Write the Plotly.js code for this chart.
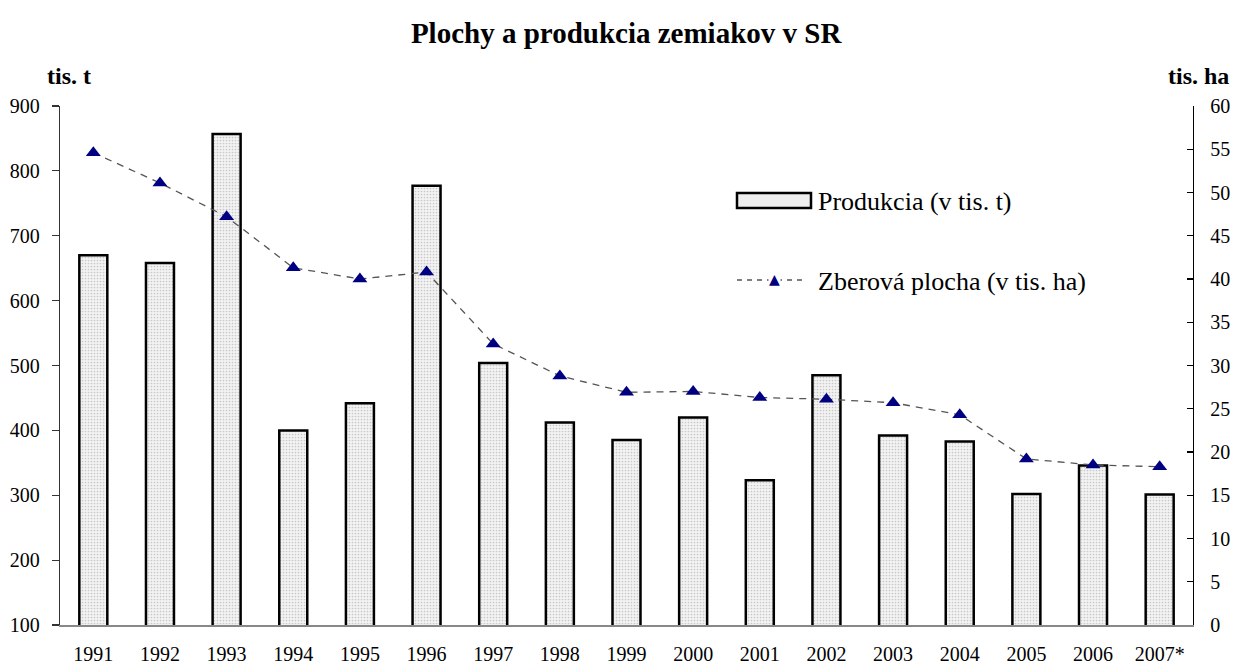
<!DOCTYPE html>
<html>
<head>
<meta charset="utf-8">
<script src="https://cdn.plot.ly/plotly-3.0.1.min.js"></script>
<style>html,body{margin:0;padding:0;background:#fff;}#chart{width:1235px;height:666px;}</style>
</head>
<body>
<div id="chart"></div>
<script>
const years = ['1991','1992','1993','1994','1995','1996','1997','1998','1999','2000','2001','2002','2003','2004','2005','2006','2007*'];
const produkcia = [670, 658, 857, 400, 442, 777, 504, 412, 385, 420, 323, 485, 392, 383, 302, 346, 301];
const plocha = [54.6, 51.1, 47.2, 41.3, 40.0, 40.8, 32.5, 28.8, 26.9, 27.0, 26.3, 26.1, 25.7, 24.3, 19.2, 18.5, 18.3];
const titleText = 'Plochy a produkcia zemiakov v SR';
const leftUnit = 'tis. t';
const rightUnit = 'tis. ha';
const legendBar = 'Produkcia (v tis. t)';
const legendLine = 'Zberová plocha (v tis. ha)';

const FONT = 'Liberation Serif';

const traces = [
  {
    type: 'bar', x: years, y: produkcia, name: legendBar, yaxis: 'y',
    marker: {
      color: '#f0f0f0',
      line: {color: '#000', width: 2.5},
      pattern: {shape: '.', fgcolor: '#c8c8c8', bgcolor: '#f3f3f3', size: 3, solidity: 0.25}
    },
    showlegend: false, hoverinfo: 'x+y'
  },
  {
    type: 'scatter', mode: 'lines+markers', x: years, y: plocha, name: legendLine, yaxis: 'y2',
    line: {color: '#555', width: 1.3, dash: '7px,6px'},
    marker: {symbol: 'triangle-up', size: 13, color: '#000080'},
    showlegend: false
  }
];

const layout = {
  width: 1235, height: 666,
  margin: {l: 60, r: 42, t: 106, b: 41},
  paper_bgcolor: '#fff', plot_bgcolor: '#fff',
  font: {family: FONT, size: 20, color: '#000'},
  title: {text: '<b>' + titleText + '</b>', font: {family: FONT, size: 29, color: '#000'},
          x: 0.507, xanchor: 'center', y: 0.95, yanchor: 'middle'},
  bargap: 0.58,
  showlegend: false,
  xaxis: {
    type: 'category', range: [-0.5, 16.5], showgrid: false, zeroline: false,
    showline: true, linecolor: '#888', linewidth: 1.5, ticks: '',
    ticklabelstandoff: 10, tickfont: {family: FONT, size: 20, color: '#000'}
  },
  yaxis: {
    range: [100, 900], dtick: 100, tick0: 100, showgrid: false, zeroline: false,
    showline: true, linecolor: '#333', linewidth: 1.2, ticks: 'outside', ticklen: 7,
    tickcolor: '#333', tickwidth: 1.2, ticklabelstandoff: 8,
    tickfont: {family: FONT, size: 20, color: '#000'}
  },
  yaxis2: {
    range: [0, 60], dtick: 5, tick0: 0, overlaying: 'y', side: 'right',
    showgrid: false, zeroline: false,
    showline: true, linecolor: '#000', linewidth: 1.2, ticks: 'inside', ticklen: 6,
    tickcolor: '#000', tickwidth: 1.2, ticklabelstandoff: 12,
    tickfont: {family: FONT, size: 20, color: '#000'}
  },
  shapes: [
    {type: 'rect', xref: 'paper', yref: 'paper',
     x0: (737-60)/1133, x1: (811-60)/1133, y0: (625-208)/519, y1: (625-193)/519,
     line: {color: '#000', width: 2.5}, fillcolor: '#eeeeee'},
    {type: 'line', xref: 'paper', yref: 'paper',
     x0: (737-60)/1133, x1: (807-60)/1133, y0: (625-280)/519, y1: (625-280)/519,
     line: {color: '#555', width: 1.3, dash: '5px,5px'}}
  ],
  annotations: [
    {xref: 'paper', yref: 'paper', x: (816-60)/1133, y: (625-201)/519, xanchor: 'left', yanchor: 'middle',
     text: legendBar, showarrow: false, font: {family: FONT, size: 26, color: '#000'}},
    {xref: 'paper', yref: 'paper', x: (816-60)/1133, y: (625-281)/519, xanchor: 'left', yanchor: 'middle',
     text: legendLine, showarrow: false, font: {family: FONT, size: 26, color: '#000'}},
    {xref: 'paper', yref: 'paper', x: (774-60)/1133, y: (625-279)/519, xanchor: 'center', yanchor: 'middle',
     text: '▲', showarrow: false, font: {family: 'DejaVu Sans', size: 14, color: '#000080'}, bgcolor: '#fff', borderpad: 0},
    {xref: 'paper', yref: 'paper', x: (69-60)/1133, y: (625-76)/519, xanchor: 'center', yanchor: 'middle',
     text: '<b>' + leftUnit + '</b>', showarrow: false, font: {family: FONT, size: 24, color: '#000'}},
    {xref: 'paper', yref: 'paper', x: (1198-60)/1133, y: (625-76)/519, xanchor: 'center', yanchor: 'middle',
     text: '<b>' + rightUnit + '</b>', showarrow: false, font: {family: FONT, size: 24, color: '#000'}}
  ]
};

Plotly.newPlot('chart', traces, layout, {displayModeBar: false, staticPlot: true});
</script>
</body>
</html>
